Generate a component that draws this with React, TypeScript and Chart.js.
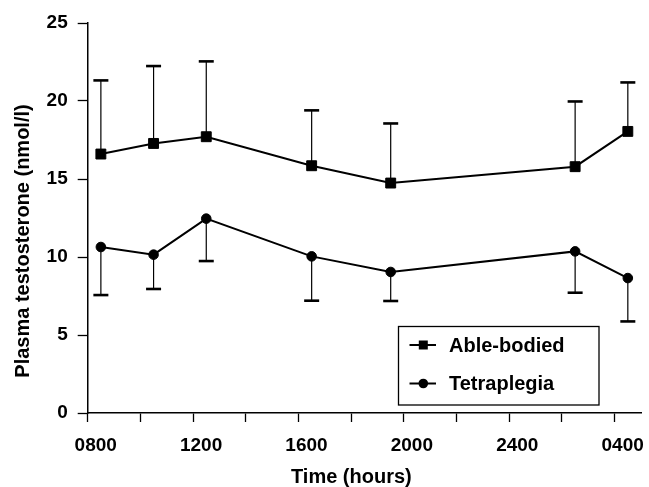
import React, { useEffect, useRef } from "react";
import { Chart, registerables } from "chart.js";

Chart.register(...registerables);

// ---- Data ----
const HOURS = [8.5, 10.5, 12.5, 16.5, 19.5, 26.5, 28.5];
const ABLE_MEAN = [16.6, 17.28, 17.71, 15.85, 14.74, 15.79, 18.05];
const ABLE_UPPER = [21.32, 22.24, 22.54, 19.4, 18.56, 19.97, 21.19];
const TETRA_MEAN = [10.64, 10.15, 12.46, 10.04, 9.04, 10.36, 8.65];
const TETRA_LOWER = [7.56, 7.95, 9.74, 7.2, 7.18, 7.71, 5.87];
const X_TICKS = [8, 10, 12, 14, 16, 18, 20, 22, 24, 26, 28];
const X_LABELED = [8, 12, 16, 20, 24, 28];
const Y_TICKS = [0, 5, 10, 15, 20, 25];
const SERIES_NAMES = ["Able-bodied", "Tetraplegia"];
const X_TITLE = "Time (hours)";
const Y_TITLE = "Plasma testosterone (nmol/l)";

const FONT = "'Liberation Sans', Arial, Helvetica, sans-serif";

function hourLabel(h: number): string {
  if (h === 24) return "2400";
  return String((h % 24) * 100).padStart(4, "0");
}

const errorBarPlugin = {
  id: "errorBars",
  beforeDatasetsDraw(chart: any) {
    const xs = chart.scales.x;
    const ys = chart.scales.y;
    const ctx = chart.ctx;
    const bounds = [ABLE_UPPER, TETRA_LOWER];
    const means = [ABLE_MEAN, TETRA_MEAN];
    ctx.save();
    ctx.strokeStyle = "#000";
    for (let s = 0; s < 2; s++) {
      for (let j = 0; j < HOURS.length; j++) {
        const x = xs.getPixelForValue(HOURS[j]);
        const y1 = ys.getPixelForValue(means[s][j]);
        const y2 = ys.getPixelForValue(bounds[s][j]);
        ctx.lineWidth = 1.2;
        ctx.beginPath();
        ctx.moveTo(x, y1);
        ctx.lineTo(x, y2);
        ctx.stroke();
        ctx.lineWidth = 2.6;
        ctx.beginPath();
        ctx.moveTo(x - 7.5, y2);
        ctx.lineTo(x + 7.5, y2);
        ctx.stroke();
      }
    }
    ctx.restore();
  },
};

const decorPlugin = {
  id: "decor",
  afterDraw(chart: any) {
    const ctx = chart.ctx;
    const ca = chart.chartArea;
    ctx.save();
    ctx.fillStyle = "#000";
    // x-axis title
    ctx.font = `bold 20px ${FONT}`;
    ctx.textAlign = "center";
    ctx.textBaseline = "alphabetic";
    ctx.fillText(X_TITLE, (ca.left + ca.right) / 2 - 13, 483);
    // y-axis title
    ctx.save();
    ctx.translate(23, (ca.top + ca.bottom) / 2 + 23);
    ctx.rotate(-Math.PI / 2);
    ctx.textBaseline = "middle";
    ctx.fillText(Y_TITLE, 0, 0);
    ctx.restore();

    // legend box
    const bx = 398.5, by = 326.5, bw = 200.5, bh = 78.5;
    ctx.lineWidth = 1.3;
    ctx.strokeStyle = "#000";
    ctx.strokeRect(bx, by, bw, bh);
    const rows = [345, 383.5];
    ctx.font = `bold 20px ${FONT}`;
    ctx.textAlign = "left";
    ctx.textBaseline = "middle";
    for (let i = 0; i < 2; i++) {
      const y = rows[i];
      ctx.lineWidth = 2;
      ctx.beginPath();
      ctx.moveTo(409.5, y);
      ctx.lineTo(436, y);
      ctx.stroke();
      ctx.beginPath();
      if (i === 0) {
        ctx.rect(423.3 - 4.5, y - 4.5, 9, 9);
      } else {
        ctx.arc(423.3, y, 4.8, 0, Math.PI * 2);
      }
      ctx.fill();
      ctx.fillText(SERIES_NAMES[i], 449, y + 1);
    }
    ctx.restore();
  },
};

export default function App() {
  const ref = useRef<HTMLCanvasElement | null>(null);

  useEffect(() => {
    if (!ref.current) return;
    const chart = new Chart(ref.current, {
      type: "line",
      data: {
        datasets: [
          {
            label: SERIES_NAMES[0],
            data: HOURS.map((h, i) => ({ x: h, y: ABLE_MEAN[i] })),
            borderColor: "#000",
            backgroundColor: "#000",
            borderWidth: 2,
            tension: 0,
            pointStyle: "rect",
            pointRadius: 7,
            pointBorderWidth: 1,
            pointBackgroundColor: "#000",
            pointBorderColor: "#000",
          },
          {
            label: SERIES_NAMES[1],
            data: HOURS.map((h, i) => ({ x: h, y: TETRA_MEAN[i] })),
            borderColor: "#000",
            backgroundColor: "#000",
            borderWidth: 2,
            tension: 0,
            pointStyle: "circle",
            pointRadius: 4.8,
            pointBorderWidth: 1,
            pointBackgroundColor: "#000",
            pointBorderColor: "#000",
          },
        ],
      },
      options: {
        animation: false,
        responsive: false,
        maintainAspectRatio: false,
        layout: { padding: { left: 0, top: 23, right: 6, bottom: 0 } },
        plugins: {
          legend: { display: false },
          tooltip: { enabled: false },
          title: { display: false },
        },
        scales: {
          x: {
            type: "linear",
            min: 8,
            max: 29,
            afterBuildTicks: (scale: any) => {
              scale.ticks = X_TICKS.map((v) => ({ value: v }));
            },
            afterFit: (scale: any) => {
              scale.height = 74;
            },
            ticks: {
              autoSkip: false,
              maxRotation: 0,
              minRotation: 0,
              padding: 12,
              labelOffset: 8,
              color: "#000",
              font: { family: FONT, size: 19, weight: "bold" },
              callback: (v: any) => (X_LABELED.includes(Number(v)) ? hourLabel(Number(v)) : ""),
            },
            grid: {
              drawOnChartArea: false,
              drawTicks: true,
              tickLength: 9,
              tickWidth: 1.3,
              tickColor: "#000",
              color: "#000",
            },
            border: { display: true, color: "#000", width: 1.5 },
          },
          y: {
            type: "linear",
            min: 0,
            max: 25,
            afterBuildTicks: (scale: any) => {
              scale.ticks = Y_TICKS.map((v) => ({ value: v }));
            },
            afterFit: (scale: any) => {
              scale.width = 87.7;
            },
            ticks: {
              padding: 10,
              color: "#000",
              font: { family: FONT, size: 19, weight: "bold" },
            },
            grid: {
              drawOnChartArea: false,
              drawTicks: true,
              tickLength: 10,
              tickWidth: 1.3,
              tickColor: "#000",
              color: "#000",
            },
            border: { display: true, color: "#000", width: 1.5 },
          },
        },
      },
      plugins: [errorBarPlugin, decorPlugin],
    } as any);
    return () => chart.destroy();
  }, []);

  return (
    <div style={{ position: "fixed", left: 0, top: 0, width: 649, height: 487, background: "#fff" }}>
      <canvas ref={ref} width={649} height={487} style={{ width: 649, height: 487, display: "block" }} />
    </div>
  );
}
